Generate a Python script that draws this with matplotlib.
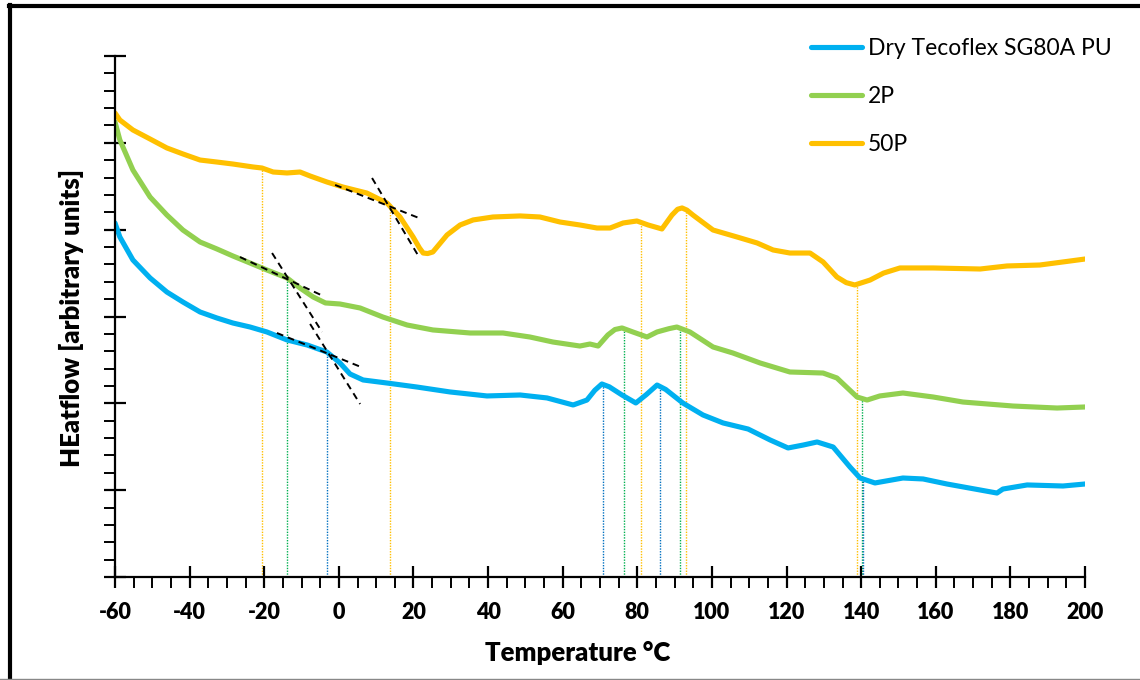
import matplotlib
matplotlib.use("Agg")
import matplotlib.pyplot as plt
from matplotlib.lines import Line2D

plt.rcParams['font.family'] = ['Lato', 'DejaVu Sans']
plt.rcParams['axes.unicode_minus'] = False

# ---- data (temperature in °C, heat flow in arbitrary units) ----
dry_T = [-60, -58.7, -55.2, -50.6, -46.1, -41.8, -37.2, -32.7, -28.4, -23.8, -19.3, -13.9,
         -8.5, -3.2, 0.3, 3.0, 6.5, 12.9, 20.9, 29.8, 39.7, 48.6, 55.8, 62.8, 66.5, 68.6,
         70.5, 72.5, 75.9, 79.6, 82.4, 85.3, 87.6, 92.2, 97.6, 103.0, 109.7, 115.6, 120.4,
         124.5, 128.2, 132.5, 137.0, 139.7, 143.7, 151.2, 156.6, 163.0, 171.9, 176.4, 178.0,
         184.5, 194.1, 200]
dry_H = [4.077, 3.916, 3.651, 3.444, 3.282, 3.167, 3.052, 2.983, 2.925, 2.879, 2.822, 2.730,
         2.672, 2.591, 2.465, 2.338, 2.269, 2.234, 2.188, 2.131, 2.085, 2.096, 2.062, 1.981,
         2.038, 2.150, 2.223, 2.190, 2.096, 2.004, 2.100, 2.211, 2.160, 2.004, 1.866, 1.774,
         1.704, 1.578, 1.486, 1.520, 1.555, 1.497, 1.267, 1.140, 1.083, 1.140, 1.129, 1.071,
         1.002, 0.967, 1.013, 1.060, 1.048, 1.071]

p2_T = [-60, -58.7, -55.2, -50.6, -46.1, -41.8, -37.2, -32.7, -28.4, -23.8, -19.3, -13.9,
        -10.4, -6.9, -3.6, 0.3, 5.7, 11.8, 18.3, 25.2, 35.2, 44.0, 51.2, 57.4, 64.6, 67.3,
        69.5, 72.1, 74.0, 75.9, 78.8, 82.6, 85.3, 88.5, 90.6, 94.1, 100.3, 105.6, 112.9,
        120.9, 129.8, 133.5, 138.9, 141.6, 145.0, 151.2, 159.3, 167.3, 180.7, 192.5, 200]
p2_H = [5.240, 5.033, 4.687, 4.376, 4.169, 3.996, 3.858, 3.778, 3.697, 3.616, 3.536, 3.444,
        3.328, 3.225, 3.156, 3.144, 3.098, 2.994, 2.902, 2.845, 2.810, 2.810, 2.764, 2.706,
        2.660, 2.683, 2.660, 2.787, 2.850, 2.868, 2.822, 2.764, 2.822, 2.860, 2.879, 2.822,
        2.649, 2.580, 2.465, 2.361, 2.349, 2.292, 2.073, 2.038, 2.085, 2.119, 2.073, 2.015,
        1.969, 1.946, 1.958]

p50_T = [-60, -58.7, -55.2, -50.6, -46.1, -41.8, -37.2, -32.7, -28.4, -23.0, -20.6, -17.6,
         -13.9, -10.4, -7.7, -3.2, 1.1, 7.5, 12.9, 16.4, 19.9, 21.6, 22.6, 23.8, 25.2, 29.0,
         32.5, 36.0, 41.3, 48.6, 53.9, 59.3, 64.6, 69.2, 72.7, 76.2, 79.9, 82.9, 86.6, 89.3,
         90.8, 92.0, 93.3, 94.9, 100.3, 106.7, 112.1, 116.4, 120.9, 126.3, 129.8, 133.5,
         136.0, 138.3, 142.4, 146.0, 150.4, 159.3, 171.9, 179.1, 187.9, 196.0, 200]
p50_H = [5.344, 5.263, 5.148, 5.044, 4.941, 4.872, 4.802, 4.779, 4.756, 4.722, 4.710, 4.664,
         4.653, 4.664, 4.618, 4.549, 4.491, 4.422, 4.307, 4.146, 3.916, 3.790, 3.731, 3.725,
         3.743, 3.939, 4.054, 4.112, 4.146, 4.158, 4.146, 4.088, 4.054, 4.019, 4.019, 4.077,
         4.100, 4.054, 4.008, 4.169, 4.235, 4.250, 4.225, 4.169, 3.996, 3.916, 3.847, 3.766,
         3.731, 3.731, 3.628, 3.455, 3.390, 3.363, 3.420, 3.500, 3.559, 3.559, 3.547, 3.582,
         3.593, 3.639, 3.662]

series_labels = ["Dry Tecoflex SG80A PU", "2P", "50P"]

# tangent construction lines (x0, y0, x1, y1)
tangent_x0 = [-1.0, 8.9, -26.5, -17.9, -16.6, -7.7]
tangent_y0 = [4.515, 4.595, 3.685, 3.731, 2.810, 2.914]
tangent_x1 = [21.5, 21.5, -4.2, -4.5, 5.9, 5.7]
tangent_y1 = [4.134, 3.685, 3.236, 2.822, 2.419, 1.992]

# dropped verticals: temperature, top value, series index
marker_T = [-20.6, -13.9, -3.2, 13.7, 70.8, 76.5, 81.0, 86.0, 91.5, 93.0, 139.0, 140.2, 140.5]
marker_top = [4.71, 3.444, 2.59, 4.307, 2.22, 2.87, 4.10, 2.21, 2.88, 4.25, 3.36, 2.07, 1.13]
marker_series = [2, 1, 0, 2, 0, 1, 2, 0, 1, 2, 2, 1, 0]

x_ticks = list(range(-60, 201, 20))

# ---- styling ----
line_colors = ["#00b0f0", "#92d050", "#ffc000"]
drop_colors = ["#0070c0", "#00b050", "#ffc000"]

fig = plt.figure(figsize=(11.4, 6.8), dpi=100)
ax = fig.add_axes([115/1140, 1-577/680, (1085-115)/1140, (577-56)/680])

ax.set_xlim(-60, 200)
ax.set_ylim(0, 6)

for T, top, s in zip(marker_T, marker_top, marker_series):
    ax.plot([T, T], [0, top], color=drop_colors[s], lw=1.0, ls=(0, (1, 1)), zorder=1)

for T, H, c, lab in zip([dry_T, p2_T, p50_T], [dry_H, p2_H, p50_H], line_colors, series_labels):
    ax.plot(T, H, color=c, lw=3.7, label=lab, solid_capstyle='round',
            solid_joinstyle='round', zorder=2)

for x0, y0, x1, y1 in zip(tangent_x0, tangent_y0, tangent_x1, tangent_y1):
    ax.plot([x0, x1], [y0, y1], color='black', lw=1.4, ls=(0, (3.5, 2.5)), zorder=3)

for sp in ['top', 'right']:
    ax.spines[sp].set_visible(False)
for sp in ['left', 'bottom']:
    ax.spines[sp].set_linewidth(1.6)

ax.set_xticks(x_ticks)
ax.set_xticks(list(range(-60, 201, 5)), minor=True)
ax.set_yticks(range(0, 7))
ax.set_yticks([i * 0.2 for i in range(31)], minor=True)
ax.set_yticklabels([])
ax.tick_params(axis='x', which='major', direction='inout', length=16, width=1.6, pad=10,
               labelsize=15.5)
ax.tick_params(axis='x', which='minor', direction='out', length=8, width=1.4)
ax.tick_params(axis='y', which='major', direction='inout', length=16, width=1.6)
ax.tick_params(axis='y', which='minor', direction='out', length=8, width=1.4)
for lbl in ax.get_xticklabels():
    lbl.set_fontweight('heavy')

ax.set_xlabel("Temperature °C", fontsize=18.5, fontweight='heavy')
ax.xaxis.set_label_coords((578-115)/970, (577-641)/521)
ax.set_ylabel("HEatflow [arbitrary units]", fontsize=18.5, fontweight='heavy')
ax.yaxis.set_label_coords((84-115)/970, 0.5 - (318-316.5)/521)

handles = [Line2D([0], [0], color=c, lw=3.7, solid_capstyle='round') for c in line_colors]
fig.legend(handles, series_labels, loc='upper left', bbox_to_anchor=(790/1140, 1-17/680),
           frameon=False, fontsize=16.5, handlelength=2.25, handletextpad=0.25,
           labelspacing=1.18)

# outer frame (left/top black, bottom grey)
fig.add_artist(Line2D([10.5/1140, 10.5/1140], [0, 1-5/680], color='black', lw=3,
                      transform=fig.transFigure))
fig.add_artist(Line2D([9/1140, 1], [1-6/680, 1-6/680], color='black', lw=3,
                      transform=fig.transFigure))
fig.add_artist(Line2D([0, 1], [1.5/680, 1.5/680], color='#888888', lw=1,
                      transform=fig.transFigure))

fig.savefig("out.png", dpi=100)
